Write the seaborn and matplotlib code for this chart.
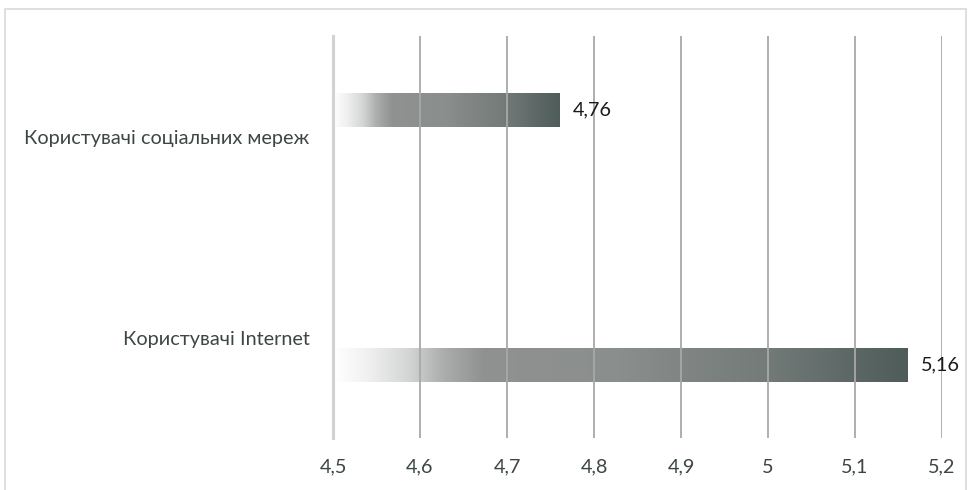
import matplotlib
matplotlib.use("Agg")
import matplotlib.pyplot as plt
from matplotlib.colors import LinearSegmentedColormap
from matplotlib.patches import Rectangle
import numpy as np
import pandas as pd
import seaborn as sns

# Data
categories = ["Користувачі соціальних мереж", "Користувачі Internet"]
values = [4.76, 5.16]
value_labels = ["4,76", "5,16"]
x_ticks = [4.5, 4.6, 4.7, 4.8, 4.9, 5.0, 5.1, 5.2]
x_tick_labels = ["4,5", "4,6", "4,7", "4,8", "4,9", "5", "5,1", "5,2"]

# Vertical shift of each bar within its category band (style)
bar_shift = [-0.132, 0.137]

sns.set_theme(style="white")
plt.rcParams["font.family"] = ["Lato", "DejaVu Sans"]

W, H, DPI = 974, 490, 100
fig = plt.figure(figsize=(W / DPI, H / DPI), dpi=DPI)
ax = fig.add_axes([333 / W, 1 - 438 / H, (942 - 333) / W, (438 - 36) / H])

df = pd.DataFrame({"category": categories, "value": values})
sns.barplot(data=df, x="value", y="category", orient="h", width=0.17,
            color="#888888", ax=ax)

ax.set_xlim(4.5, 5.2)
ax.set_ylim(1.5, -0.5)

grad = LinearSegmentedColormap.from_list(
    "bar_grad",
    [(0.0, "#ffffff"), (0.06, "#f0f0f0"), (0.13, "#d4d5d5"),
     (0.19, "#acaeae"), (0.26, "#8f9291"), (0.5, "#8a8e8c"),
     (0.75, "#747b79"), (1.0, "#4e5c5a")])
ramp = np.linspace(0, 1, 512).reshape(1, -1)

x0_axis = ax.get_xlim()[0]
for patch, shift, lab in zip(ax.patches, bar_shift, value_labels):
    patch.set_y(patch.get_y() + shift)
    x_end = patch.get_x() + patch.get_width()
    x_start = max(patch.get_x(), x0_axis)
    y0 = patch.get_y()
    y1 = y0 + patch.get_height()
    patch.set_facecolor("none")
    patch.set_edgecolor("none")
    im = ax.imshow(ramp, cmap=grad, aspect="auto", interpolation="bilinear",
                   extent=(x_start, x_end, y1, y0), zorder=1)
    im.set_clip_path(patch)
    ax.text(x_end + 0.016, (y0 + y1) / 2, lab, ha="left", va="center",
            fontsize=14.3, color="#1a1a1a", zorder=5)

ax.set_xlim(4.5, 5.2)
ax.set_ylim(1.5, -0.5)

# Vertical grid on top of the bars
ax.set_axisbelow(False)
ax.xaxis.grid(True, color="#a8a8a8", linewidth=1.3, zorder=3)
ax.yaxis.grid(False)
ax.set_xticks(x_ticks)
ax.set_xticklabels(x_tick_labels)
ax.tick_params(axis="x", length=0, pad=15, labelsize=14.3, labelcolor="#3d4646")
ax.tick_params(axis="y", length=0, pad=17, labelsize=14.3, labelcolor="#3d4646")
ax.set_xlabel("")
ax.set_ylabel("")

for side in ["top", "right", "bottom"]:
    ax.spines[side].set_visible(False)
ax.spines["left"].set_color("#d2d2d2")
ax.spines["left"].set_linewidth(2.2)
ax.spines["left"].set_zorder(4)

# Outer chart frame
fig.patches.append(Rectangle((5 / W, -0.1), (966 - 5) / W, 1.1 - 9 / H,
                             transform=fig.transFigure, fill=False,
                             edgecolor="#d9d9d9", linewidth=1.2))

fig.savefig("out.png", dpi=DPI, facecolor="white")
